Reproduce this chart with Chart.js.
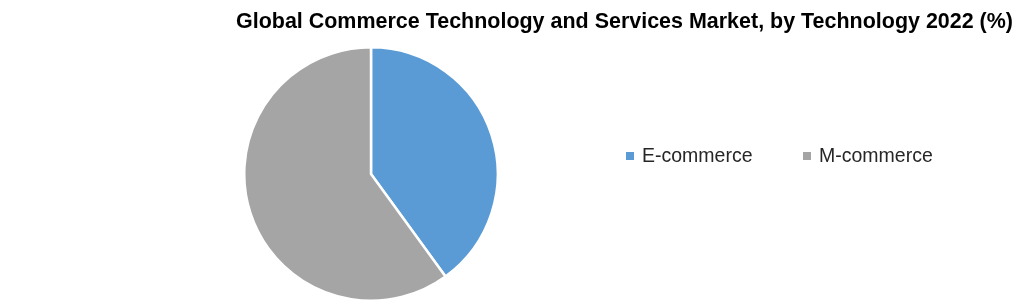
<!DOCTYPE html>
<html>
<head>
<meta charset="utf-8">
<script src="https://cdn.jsdelivr.net/npm/chart.js@4/dist/chart.umd.min.js"></script>
<style>
html,body{margin:0;padding:0;background:#fff;}
#wrap{width:1020px;height:303px;position:relative;}
</style>
</head>
<body>
<div id="wrap"><canvas id="pie" width="1020" height="303"></canvas></div>
<script>
// data
const labels = ['E-commerce', 'M-commerce'];
const shares = [40, 60];
const colours = ['#5B9BD5', '#A5A5A5'];
const titleText = 'Global Commerce Technology and Services Market, by Technology 2022 (%)';

// title drawn squeezed to the width of the original (Calibri is narrow)
const titlePlugin = {
  id: 'squeezedTitle',
  afterDraw(chart) {
    const ctx = chart.ctx;
    ctx.save();
    ctx.font = 'bold 21.5px "Liberation Sans", Arial, sans-serif';
    ctx.fillStyle = '#000';
    ctx.textBaseline = 'alphabetic';
    const w = ctx.measureText(titleText).width;
    const target = 777;
    ctx.translate(236, 28);
    ctx.scale(target / w, 1);
    ctx.fillText(titleText, 0, 0);
    ctx.restore();
  }
};

// horizontal legend to the right of the pie
const legendPlugin = {
  id: 'sideLegend',
  afterDraw(chart) {
    const ctx = chart.ctx;
    const ds = chart.data.datasets[0];
    const xs = [626, 803];
    ctx.save();
    ctx.font = '19.5px "Liberation Sans", Arial, sans-serif';
    ctx.textBaseline = 'alphabetic';
    chart.data.labels.forEach((lab, i) => {
      ctx.fillStyle = ds.backgroundColor[i];
      ctx.fillRect(xs[i], 152, 8, 8);
      ctx.fillStyle = '#262626';
      ctx.fillText(lab, xs[i] + 16, 162);
    });
    ctx.restore();
  }
};

new Chart(document.getElementById('pie'), {
  type: 'pie',
  data: {
    labels: labels,
    datasets: [{
      data: shares,
      backgroundColor: colours,
      borderColor: '#ffffff',
      borderWidth: 2.5
    }]
  },
  options: {
    responsive: false,
    animation: false,
    events: [],
    layout: {padding: {left: 243, right: 521, top: 46, bottom: 1}},
    plugins: {
      legend: {display: false},
      title: {display: false},
      tooltip: {enabled: false}
    }
  },
  plugins: [titlePlugin, legendPlugin]
});
</script>
</body>
</html>
